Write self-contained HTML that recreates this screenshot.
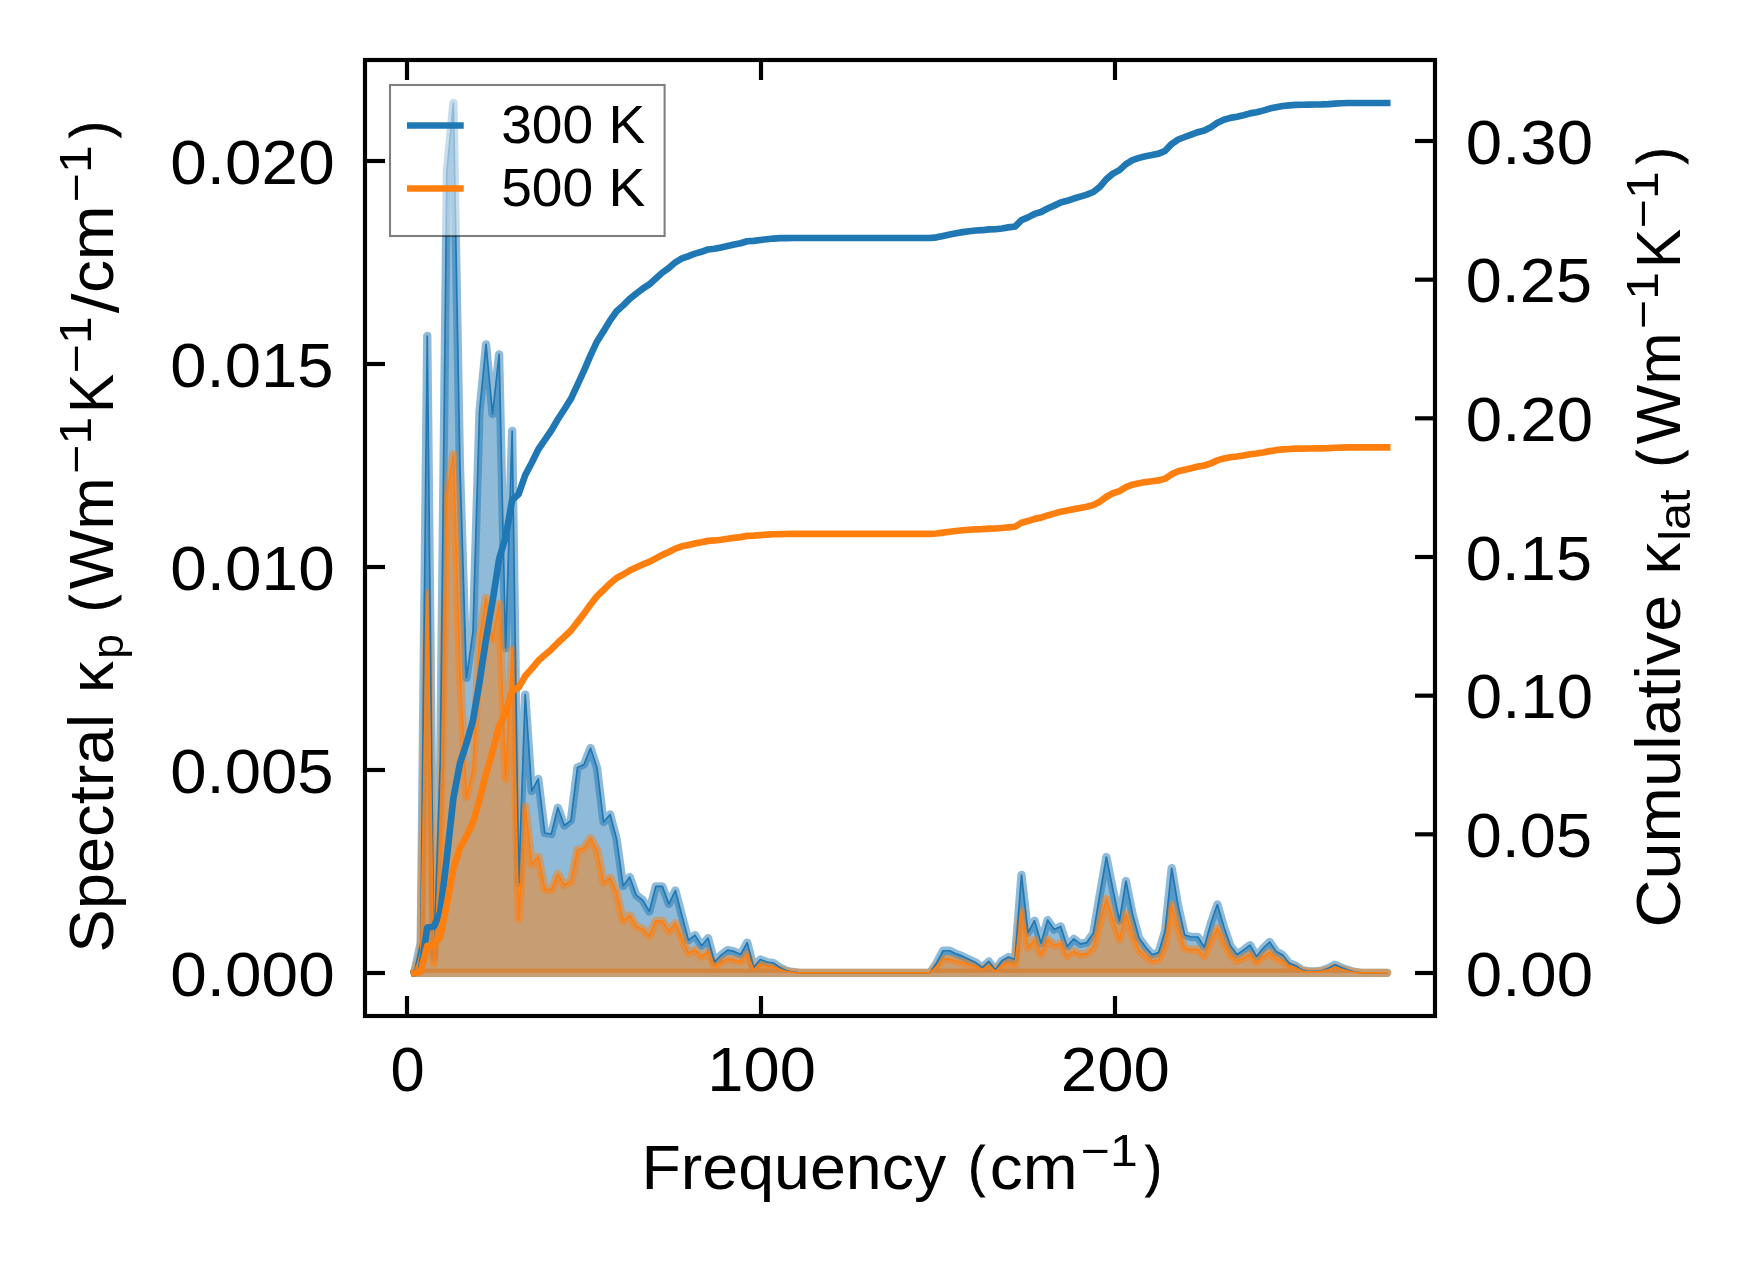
<!DOCTYPE html>
<html lang="en"><head><meta charset="utf-8"><title>Spectral and cumulative lattice thermal conductivity</title>
<style>html,body{margin:0;padding:0;background:#fff}body{width:1753px;height:1264px;overflow:hidden}svg{display:block;will-change:transform}text{font-family:"Liberation Sans",sans-serif;fill:#000}</style>
</head><body>
<svg width="1753" height="1264" viewBox="0 0 1753 1264">
<rect x="0" y="0" width="1753" height="1264" fill="#ffffff"/>
<g stroke-linejoin="round" stroke-linecap="butt">
<polygon points="414.2,972.8 420.73,943 427.26,336 433.79,957 440.32,760 446.85,172 453.38,103 459.91,465 466.44,678 472.97,632 479.5,412 486.03,344.4 492.56,414 499.09,354.4 505.62,648 512.15,431 518.68,883 525.21,694.6 531.74,791 538.27,779 544.8,833 551.33,834 557.86,807.7 564.39,825.5 570.92,820.3 577.45,767.6 583.98,764.5 590.51,748 597.04,768 603.57,822 610.1,814.5 616.63,839.3 623.16,886 629.69,877 636.22,895.1 642.75,900.1 649.28,911.4 655.81,886.4 662.34,886.4 668.87,903.9 675.4,890.5 681.93,915.75 688.46,940.1 694.99,935.1 701.52,945.75 708.05,938.25 714.58,962 721.11,955.1 727.64,950.1 734.17,951.4 740.7,954.5 747.23,942.6 753.76,967.6 760.29,959.5 766.82,962 773.35,963 779.88,967.6 786.41,970.75 792.94,972 799.47,972.8 806,972.8 812.53,972.8 819.06,972.8 825.59,972.8 832.12,972.8 838.65,972.8 845.18,972.8 851.71,972.8 858.24,972.8 864.77,972.8 871.3,972.8 877.83,972.8 884.36,972.8 890.89,972.8 897.42,972.8 903.95,972.8 910.48,972.8 917.01,972.8 923.54,972.8 930.07,972.8 936.6,963 943.13,950.75 949.66,950.75 956.19,953.9 962.72,956.4 969.25,959.5 975.78,962.6 982.31,967.6 988.84,961.4 995.37,970.1 1001.9,960.75 1008.43,957 1014.96,959.5 1021.49,875 1028.02,932.6 1034.55,920.75 1041.08,943.25 1047.61,920.1 1054.14,929.5 1060.67,926.4 1067.2,946.4 1073.73,938.9 1080.26,943.9 1086.79,942.6 1093.32,933.25 1099.85,894.5 1106.38,857 1112.91,889.5 1119.44,920.75 1125.97,881 1132.5,914 1139.03,938 1145.56,947 1152.09,954.5 1158.62,952.6 1165.15,930.75 1171.68,868.25 1178.21,906.25 1184.74,935.1 1191.27,937 1197.8,937 1204.33,947 1210.86,923.25 1217.39,904.5 1223.92,927 1230.45,945.75 1236.98,954.5 1243.51,950.1 1250.04,945.1 1256.57,956.4 1263.1,948.25 1269.63,942 1276.16,951.4 1282.69,955.1 1289.22,963.25 1295.75,965.75 1302.28,970.1 1308.81,971.4 1315.34,971.4 1321.87,970.75 1328.4,968.25 1334.93,964.7 1341.46,967.6 1347.99,970.1 1354.52,972 1361.05,972.8 1367.58,972.8 1374.11,972.8 1380.64,972.8 1387.17,972.8 1387.17,972.8 414.2,972.8" fill="#1f77b4" fill-opacity="0.5" stroke="#1f77b4" stroke-opacity="0.5" stroke-width="8.33"/>
<polygon points="414.2,972.8 420.73,955.04 427.26,593.26 433.79,963.38 440.32,845.96 446.85,495.45 453.38,454.28 459.91,670.06 466.44,797.03 472.97,769.58 479.5,638.35 486.03,597.99 492.56,639.45 499.09,603.84 505.62,778.98 512.15,649.43 518.68,919.19 525.21,806.69 531.74,864.23 538.27,857.03 544.8,889.27 551.33,889.85 557.86,874.1 564.39,884.72 570.92,881.58 577.45,850.02 583.98,848.13 590.51,838.21 597.04,850.14 603.57,882.45 610.1,877.92 616.63,892.75 623.16,920.74 629.69,915.31 636.22,926.16 642.75,929.14 649.28,935.91 655.81,920.86 662.34,920.84 668.87,931.34 675.4,923.26 681.93,938.44 688.46,953.1 694.99,950.07 701.52,956.48 708.05,951.95 714.58,966.28 721.11,962.1 727.64,959.08 734.17,959.85 740.7,961.72 747.23,954.51 753.76,969.65 760.29,964.73 766.82,966.25 773.35,966.85 779.88,969.64 786.41,971.55 792.94,972.31 799.47,972.8 806,972.8 812.53,972.8 819.06,972.8 825.59,972.8 832.12,972.8 838.65,972.8 845.18,972.8 851.71,972.8 858.24,972.8 864.77,972.8 871.3,972.8 877.83,972.8 884.36,972.8 890.89,972.8 897.42,972.8 903.95,972.8 910.48,972.8 917.01,972.8 923.54,972.8 930.07,972.8 936.6,966.73 943.13,959.12 949.66,959.11 956.19,961.05 962.72,962.59 969.25,964.51 975.78,966.44 982.31,969.55 988.84,965.68 995.37,971.11 1001.9,965.25 1008.43,962.9 1014.96,964.45 1021.49,911.36 1028.02,947.52 1034.55,940.03 1041.08,954.17 1047.61,939.54 1054.14,945.44 1060.67,943.45 1067.2,956.08 1073.73,951.31 1080.26,954.45 1086.79,953.61 1093.32,947.63 1099.85,922.91 1106.38,898.93 1112.91,919.6 1119.44,939.51 1125.97,914.02 1132.5,935.1 1139.03,950.46 1145.56,956.22 1152.09,961.02 1158.62,959.78 1165.15,945.66 1171.68,905.24 1178.21,929.74 1184.74,948.37 1191.27,949.57 1197.8,949.54 1204.33,956.01 1210.86,940.52 1217.39,928.24 1223.92,942.88 1230.45,955.1 1236.98,960.81 1243.51,957.91 1250.04,954.6 1256.57,962.01 1263.1,956.62 1269.63,952.47 1276.16,958.66 1282.69,961.08 1289.22,966.47 1295.75,968.12 1302.28,971 1308.81,971.87 1315.34,971.87 1321.87,971.43 1328.4,969.76 1334.93,967.37 1341.46,969.31 1347.99,970.98 1354.52,972.26 1361.05,972.8 1367.58,972.8 1374.11,972.8 1380.64,972.8 1387.17,972.8 1387.17,972.8 414.2,972.8" fill="#ff7f0e" fill-opacity="0.5" stroke="#ff7f0e" stroke-opacity="0.5" stroke-width="8.33"/>
<polyline points="414.2,972.8 420.73,943 427.26,336 433.79,957 440.32,760 446.85,172 453.38,103 459.91,465 466.44,678 472.97,632 479.5,412 486.03,344.4 492.56,414 499.09,354.4 505.62,648 512.15,431 518.68,883 525.21,694.6 531.74,791 538.27,779 544.8,833 551.33,834 557.86,807.7 564.39,825.5 570.92,820.3 577.45,767.6 583.98,764.5 590.51,748 597.04,768 603.57,822 610.1,814.5 616.63,839.3 623.16,886 629.69,877 636.22,895.1 642.75,900.1 649.28,911.4 655.81,886.4 662.34,886.4 668.87,903.9 675.4,890.5 681.93,915.75 688.46,940.1 694.99,935.1 701.52,945.75 708.05,938.25 714.58,962 721.11,955.1 727.64,950.1 734.17,951.4 740.7,954.5 747.23,942.6 753.76,967.6 760.29,959.5 766.82,962 773.35,963 779.88,967.6 786.41,970.75 792.94,972 799.47,972.8 806,972.8 812.53,972.8 819.06,972.8 825.59,972.8 832.12,972.8 838.65,972.8 845.18,972.8 851.71,972.8 858.24,972.8 864.77,972.8 871.3,972.8 877.83,972.8 884.36,972.8 890.89,972.8 897.42,972.8 903.95,972.8 910.48,972.8 917.01,972.8 923.54,972.8 930.07,972.8 936.6,963 943.13,950.75 949.66,950.75 956.19,953.9 962.72,956.4 969.25,959.5 975.78,962.6 982.31,967.6 988.84,961.4 995.37,970.1 1001.9,960.75 1008.43,957 1014.96,959.5 1021.49,875 1028.02,932.6 1034.55,920.75 1041.08,943.25 1047.61,920.1 1054.14,929.5 1060.67,926.4 1067.2,946.4 1073.73,938.9 1080.26,943.9 1086.79,942.6 1093.32,933.25 1099.85,894.5 1106.38,857 1112.91,889.5 1119.44,920.75 1125.97,881 1132.5,914 1139.03,938 1145.56,947 1152.09,954.5 1158.62,952.6 1165.15,930.75 1171.68,868.25 1178.21,906.25 1184.74,935.1 1191.27,937 1197.8,937 1204.33,947 1210.86,923.25 1217.39,904.5 1223.92,927 1230.45,945.75 1236.98,954.5 1243.51,950.1 1250.04,945.1 1256.57,956.4 1263.1,948.25 1269.63,942 1276.16,951.4 1282.69,955.1 1289.22,963.25 1295.75,965.75 1302.28,970.1 1308.81,971.4 1315.34,971.4 1321.87,970.75 1328.4,968.25 1334.93,964.7 1341.46,967.6 1347.99,970.1 1354.52,972 1361.05,972.8 1367.58,972.8 1374.11,972.8 1380.64,972.8 1387.17,972.8" fill="none" stroke="#1f77b4" stroke-width="1.67"/>
<polyline points="414.2,972.8 420.73,955.04 427.26,593.26 433.79,963.38 440.32,845.96 446.85,495.45 453.38,454.28 459.91,670.06 466.44,797.03 472.97,769.58 479.5,638.35 486.03,597.99 492.56,639.45 499.09,603.84 505.62,778.98 512.15,649.43 518.68,919.19 525.21,806.69 531.74,864.23 538.27,857.03 544.8,889.27 551.33,889.85 557.86,874.1 564.39,884.72 570.92,881.58 577.45,850.02 583.98,848.13 590.51,838.21 597.04,850.14 603.57,882.45 610.1,877.92 616.63,892.75 623.16,920.74 629.69,915.31 636.22,926.16 642.75,929.14 649.28,935.91 655.81,920.86 662.34,920.84 668.87,931.34 675.4,923.26 681.93,938.44 688.46,953.1 694.99,950.07 701.52,956.48 708.05,951.95 714.58,966.28 721.11,962.1 727.64,959.08 734.17,959.85 740.7,961.72 747.23,954.51 753.76,969.65 760.29,964.73 766.82,966.25 773.35,966.85 779.88,969.64 786.41,971.55 792.94,972.31 799.47,972.8 806,972.8 812.53,972.8 819.06,972.8 825.59,972.8 832.12,972.8 838.65,972.8 845.18,972.8 851.71,972.8 858.24,972.8 864.77,972.8 871.3,972.8 877.83,972.8 884.36,972.8 890.89,972.8 897.42,972.8 903.95,972.8 910.48,972.8 917.01,972.8 923.54,972.8 930.07,972.8 936.6,966.73 943.13,959.12 949.66,959.11 956.19,961.05 962.72,962.59 969.25,964.51 975.78,966.44 982.31,969.55 988.84,965.68 995.37,971.11 1001.9,965.25 1008.43,962.9 1014.96,964.45 1021.49,911.36 1028.02,947.52 1034.55,940.03 1041.08,954.17 1047.61,939.54 1054.14,945.44 1060.67,943.45 1067.2,956.08 1073.73,951.31 1080.26,954.45 1086.79,953.61 1093.32,947.63 1099.85,922.91 1106.38,898.93 1112.91,919.6 1119.44,939.51 1125.97,914.02 1132.5,935.1 1139.03,950.46 1145.56,956.22 1152.09,961.02 1158.62,959.78 1165.15,945.66 1171.68,905.24 1178.21,929.74 1184.74,948.37 1191.27,949.57 1197.8,949.54 1204.33,956.01 1210.86,940.52 1217.39,928.24 1223.92,942.88 1230.45,955.1 1236.98,960.81 1243.51,957.91 1250.04,954.6 1256.57,962.01 1263.1,956.62 1269.63,952.47 1276.16,958.66 1282.69,961.08 1289.22,966.47 1295.75,968.12 1302.28,971 1308.81,971.87 1315.34,971.87 1321.87,971.43 1328.4,969.76 1334.93,967.37 1341.46,969.31 1347.99,970.98 1354.52,972.26 1361.05,972.8 1367.58,972.8 1374.11,972.8 1380.64,972.8 1387.17,972.8" fill="none" stroke="#ff7f0e" stroke-width="1.67"/>
</g>
<g>
<rect x="390" y="85" width="274.6" height="151" fill="#ffffff" fill-opacity="0.5" stroke="#000000" stroke-opacity="0.5" stroke-width="2.08"/>
<line x1="410.3" y1="125.5" x2="460.4" y2="125.5" stroke="#1f77b4" stroke-width="6.67" stroke-linecap="square"/>
<line x1="410.3" y1="188.5" x2="460.4" y2="188.5" stroke="#ff7f0e" stroke-width="6.67" stroke-linecap="square"/>
</g>
<g fill="none" stroke-linejoin="round" stroke-linecap="square" stroke-width="6.67">
<polyline points="414.2,973 420.73,970.97 427.26,927.6 433.79,926.52 440.32,912.02 446.85,857.48 453.38,798.23 459.91,763.64 466.44,743.56 472.97,720.35 479.5,682.15 486.03,639.35 492.56,601.29 499.09,559.17 505.62,537.04 512.15,500.14 518.68,494.02 525.21,475.07 531.74,462.69 538.27,449.49 544.8,439.97 551.33,430.51 557.86,419.27 564.39,409.23 570.92,398.84 577.45,384.87 583.98,370.68 590.51,355.37 597.04,341.42 603.57,331.15 610.1,320.36 616.63,311.27 623.16,305.36 629.69,298.83 636.22,293.54 642.75,288.59 649.28,284.41 655.81,278.52 662.34,272.64 668.87,267.94 675.4,262.34 681.93,258.45 688.46,256.22 694.99,253.66 701.52,251.81 708.05,249.46 714.58,248.72 721.11,247.52 727.64,245.97 734.17,244.52 740.7,243.27 747.23,241.21 753.76,240.86 760.29,239.95 766.82,239.22 773.35,238.55 779.88,238.19 786.41,238.05 792.94,238 799.47,238 806,238 812.53,238 819.06,238 825.59,238 832.12,238 838.65,238 845.18,238 851.71,238 858.24,238 864.77,238 871.3,238 877.83,238 884.36,238 890.89,238 897.42,238 903.95,238 910.48,238 917.01,238 923.54,238 930.07,238 936.6,237.35 943.13,235.89 949.66,234.43 956.19,233.18 962.72,232.09 969.25,231.21 975.78,230.53 982.31,230.19 988.84,229.43 995.37,229.25 1001.9,228.45 1008.43,227.41 1014.96,226.52 1021.49,220.04 1028.02,217.38 1034.55,213.93 1041.08,211.97 1047.61,208.48 1054.14,205.61 1060.67,202.53 1067.2,200.78 1073.73,198.54 1080.26,196.62 1086.79,194.62 1093.32,192 1099.85,186.81 1106.38,179.13 1112.91,173.61 1119.44,170.16 1125.97,164.08 1132.5,160.18 1139.03,157.88 1145.56,156.17 1152.09,154.95 1158.62,153.62 1165.15,150.83 1171.68,143.9 1178.21,139.49 1184.74,136.99 1191.27,134.62 1197.8,132.24 1204.33,130.53 1210.86,127.25 1217.39,122.72 1223.92,119.69 1230.45,117.9 1236.98,116.68 1243.51,115.18 1250.04,113.34 1256.57,112.26 1263.1,110.63 1269.63,108.59 1276.16,107.17 1282.69,106 1289.22,105.36 1295.75,104.9 1302.28,104.72 1308.81,104.62 1315.34,104.53 1321.87,104.4 1328.4,104.09 1334.93,103.56 1341.46,103.21 1347.99,103.03 1354.52,102.98 1361.05,102.98 1367.58,102.98 1374.11,102.98 1380.64,102.98 1387.17,102.98" stroke="#1f77b4"/>
<polyline points="414.2,973 420.73,971.79 427.26,945.94 433.79,945.3 440.32,936.66 446.85,904.14 453.38,868.82 459.91,848.2 466.44,836.23 472.97,822.39 479.5,799.61 486.03,774.08 492.56,751.37 499.09,726.24 505.62,713.04 512.15,691.01 518.68,687.36 525.21,676.05 531.74,668.65 538.27,660.77 544.8,655.08 551.33,649.43 557.86,642.7 564.39,636.7 570.92,630.49 577.45,622.13 583.98,613.64 590.51,604.47 597.04,596.11 603.57,589.96 610.1,583.5 616.63,578.04 623.16,574.5 629.69,570.58 636.22,567.41 642.75,564.43 649.28,561.92 655.81,558.38 662.34,554.84 668.87,552.02 675.4,548.64 681.93,546.3 688.46,544.96 694.99,543.41 701.52,542.3 708.05,540.88 714.58,540.44 721.11,539.71 727.64,538.77 734.17,537.89 740.7,537.14 747.23,535.89 753.76,535.68 760.29,535.13 766.82,534.68 773.35,534.27 779.88,534.06 786.41,533.97 792.94,533.94 799.47,533.94 806,533.94 812.53,533.94 819.06,533.94 825.59,533.94 832.12,533.94 838.65,533.94 845.18,533.94 851.71,533.94 858.24,533.94 864.77,533.94 871.3,533.94 877.83,533.94 884.36,533.94 890.89,533.94 897.42,533.94 903.95,533.94 910.48,533.94 917.01,533.94 923.54,533.94 930.07,533.94 936.6,533.54 943.13,532.63 949.66,531.72 956.19,530.95 962.72,530.27 969.25,529.72 975.78,529.3 982.31,529.08 988.84,528.61 995.37,528.5 1001.9,528 1008.43,527.34 1014.96,526.79 1021.49,522.72 1028.02,521.04 1034.55,518.87 1041.08,517.64 1047.61,515.43 1054.14,513.62 1060.67,511.67 1067.2,510.56 1073.73,509.14 1080.26,507.92 1086.79,506.65 1093.32,504.98 1099.85,501.68 1106.38,496.78 1112.91,493.26 1119.44,491.05 1125.97,487.15 1132.5,484.66 1139.03,483.18 1145.56,482.08 1152.09,481.3 1158.62,480.43 1165.15,478.63 1171.68,474.16 1178.21,471.3 1184.74,469.68 1191.27,468.15 1197.8,466.6 1204.33,465.49 1210.86,463.35 1217.39,460.4 1223.92,458.42 1230.45,457.24 1236.98,456.45 1243.51,455.46 1250.04,454.25 1256.57,453.54 1263.1,452.47 1269.63,451.12 1276.16,450.18 1282.69,449.41 1289.22,448.99 1295.75,448.68 1302.28,448.56 1308.81,448.5 1315.34,448.43 1321.87,448.34 1328.4,448.14 1334.93,447.78 1341.46,447.55 1347.99,447.43 1354.52,447.39 1361.05,447.39 1367.58,447.39 1374.11,447.39 1380.64,447.39 1387.17,447.39" stroke="#ff7f0e"/>
</g>
<g stroke="#000" stroke-width="4.17" fill="none" stroke-linecap="butt">
<line x1="407" y1="1016" x2="407" y2="996"/>
<line x1="407" y1="60" x2="407" y2="80"/>
<line x1="761" y1="1016" x2="761" y2="996"/>
<line x1="761" y1="60" x2="761" y2="80"/>
<line x1="1115" y1="1016" x2="1115" y2="996"/>
<line x1="1115" y1="60" x2="1115" y2="80"/>
<line x1="365" y1="973" x2="385" y2="973"/>
<line x1="365" y1="770" x2="385" y2="770"/>
<line x1="365" y1="567" x2="385" y2="567"/>
<line x1="365" y1="364" x2="385" y2="364"/>
<line x1="365" y1="161" x2="385" y2="161"/>
<line x1="1435" y1="973" x2="1415" y2="973"/>
<line x1="1435" y1="834.33" x2="1415" y2="834.33"/>
<line x1="1435" y1="695.67" x2="1415" y2="695.67"/>
<line x1="1435" y1="557" x2="1415" y2="557"/>
<line x1="1435" y1="418.33" x2="1415" y2="418.33"/>
<line x1="1435" y1="279.67" x2="1415" y2="279.67"/>
<line x1="1435" y1="141" x2="1415" y2="141"/>
<rect x="365" y="60" width="1070" height="956" stroke-linejoin="miter"/>
</g>
<g>
<text transform="translate(170.29,995.8) scale(1.0495,1)" font-size="62.6">0.000</text>
<text transform="translate(170.31,792.8) scale(1.0426,1)" font-size="62.6">0.005</text>
<text transform="translate(170.29,589.8) scale(1.0495,1)" font-size="62.6">0.010</text>
<text transform="translate(170.31,386.8) scale(1.0426,1)" font-size="62.6">0.015</text>
<text transform="translate(170.29,183.8) scale(1.0495,1)" font-size="62.6">0.020</text>
<text transform="translate(1465.79,995.8) scale(1.0445,1)" font-size="62.6">0.00</text>
<text transform="translate(1465.81,857.13) scale(1.0357,1)" font-size="62.6">0.05</text>
<text transform="translate(1465.79,718.47) scale(1.0445,1)" font-size="62.6">0.10</text>
<text transform="translate(1465.81,579.8) scale(1.0357,1)" font-size="62.6">0.15</text>
<text transform="translate(1465.79,441.13) scale(1.0445,1)" font-size="62.6">0.20</text>
<text transform="translate(1465.81,302.47) scale(1.0357,1)" font-size="62.6">0.25</text>
<text transform="translate(1465.79,163.8) scale(1.0445,1)" font-size="62.6">0.30</text>
<text transform="translate(390.39,1090.9) scale(0.9822,1)" font-size="62.6">0</text>
<text transform="translate(707.29,1090.9) scale(1.0393,1)" font-size="62.6">100</text>
<text transform="translate(1060.82,1090.9) scale(1.0439,1)" font-size="62.6">200</text>
<text transform="translate(501.21,143.3) scale(1.0274,1)" font-size="53.66">300 K</text>
<text transform="translate(501.15,205.5) scale(1.0279,1)" font-size="53.66">500 K</text>
</g>
<g transform="translate(641,1188.6)">
<text transform="translate(0.43,0) scale(1.0306,1)" font-size="62.6">Frequency</text>
<text transform="translate(327.61,-3.85) scale(0.7876,0.8908)" font-size="62.6" stroke="#000" stroke-width="1.1">(</text>
<text transform="translate(348.85,0) scale(1.0529,1)" font-size="62.6">cm</text>
<text transform="translate(439.8,-22.2) scale(1.1409,1)" font-size="43.82">−1</text>
<text transform="translate(504.14,-3.85) scale(0.7876,0.8908)" font-size="62.6" stroke="#000" stroke-width="1.1">)</text>
</g>
<g transform="translate(113,953.6) rotate(-90)">
<text transform="translate(0.89,0) scale(1.0399,1)" font-size="62.6">Spectral</text>
<text transform="translate(260.72,0) scale(1.0125,1)" font-size="62.6">κ</text>
<text transform="translate(294.81,9.5) scale(1.0137,1)" font-size="43.82">p</text>
<text transform="translate(342,-3.85) scale(0.7876,0.8908)" font-size="62.6" stroke="#000" stroke-width="1.1">(</text>
<text transform="translate(364.47,0) scale(1.0072,1)" font-size="62.6">Wm</text>
<text transform="translate(479.81,-22.2) scale(1.1409,1)" font-size="43.82">−1</text>
<text transform="translate(540.67,0) scale(0.9397,1)" font-size="62.6">K</text>
<text transform="translate(580.47,-22.2) scale(1.1409,1)" font-size="43.82">−1</text>
<text transform="translate(640.43,4.77) scale(1.1299,1.0427)" font-size="62.6">/</text>
<text transform="translate(660.52,0) scale(1.0529,1)" font-size="62.6">cm</text>
<text transform="translate(751.47,-22.2) scale(1.1409,1)" font-size="43.82">−1</text>
<text transform="translate(815.81,-3.85) scale(0.7876,0.8908)" font-size="62.6" stroke="#000" stroke-width="1.1">)</text>
</g>
<g transform="translate(1680,927.4) rotate(-90)">
<text transform="translate(-0.1,0) scale(1.0631,1)" font-size="62.6">Cumulative</text>
<text transform="translate(352.9,0) scale(1.0125,1)" font-size="62.6">κ</text>
<text transform="translate(386.72,9.5) scale(1.1056,1)" font-size="43.82">lat</text>
<text transform="translate(460.65,-3.85) scale(0.7876,0.8908)" font-size="62.6" stroke="#000" stroke-width="1.1">(</text>
<text transform="translate(483.13,0) scale(1.0072,1)" font-size="62.6">Wm</text>
<text transform="translate(598.47,-22.2) scale(1.1409,1)" font-size="43.82">−1</text>
<text transform="translate(659.33,0) scale(0.9397,1)" font-size="62.6">K</text>
<text transform="translate(699.12,-22.2) scale(1.1409,1)" font-size="43.82">−1</text>
<text transform="translate(763.47,-3.85) scale(0.7876,0.8908)" font-size="62.6" stroke="#000" stroke-width="1.1">)</text>
</g>
</svg>
</body></html>
